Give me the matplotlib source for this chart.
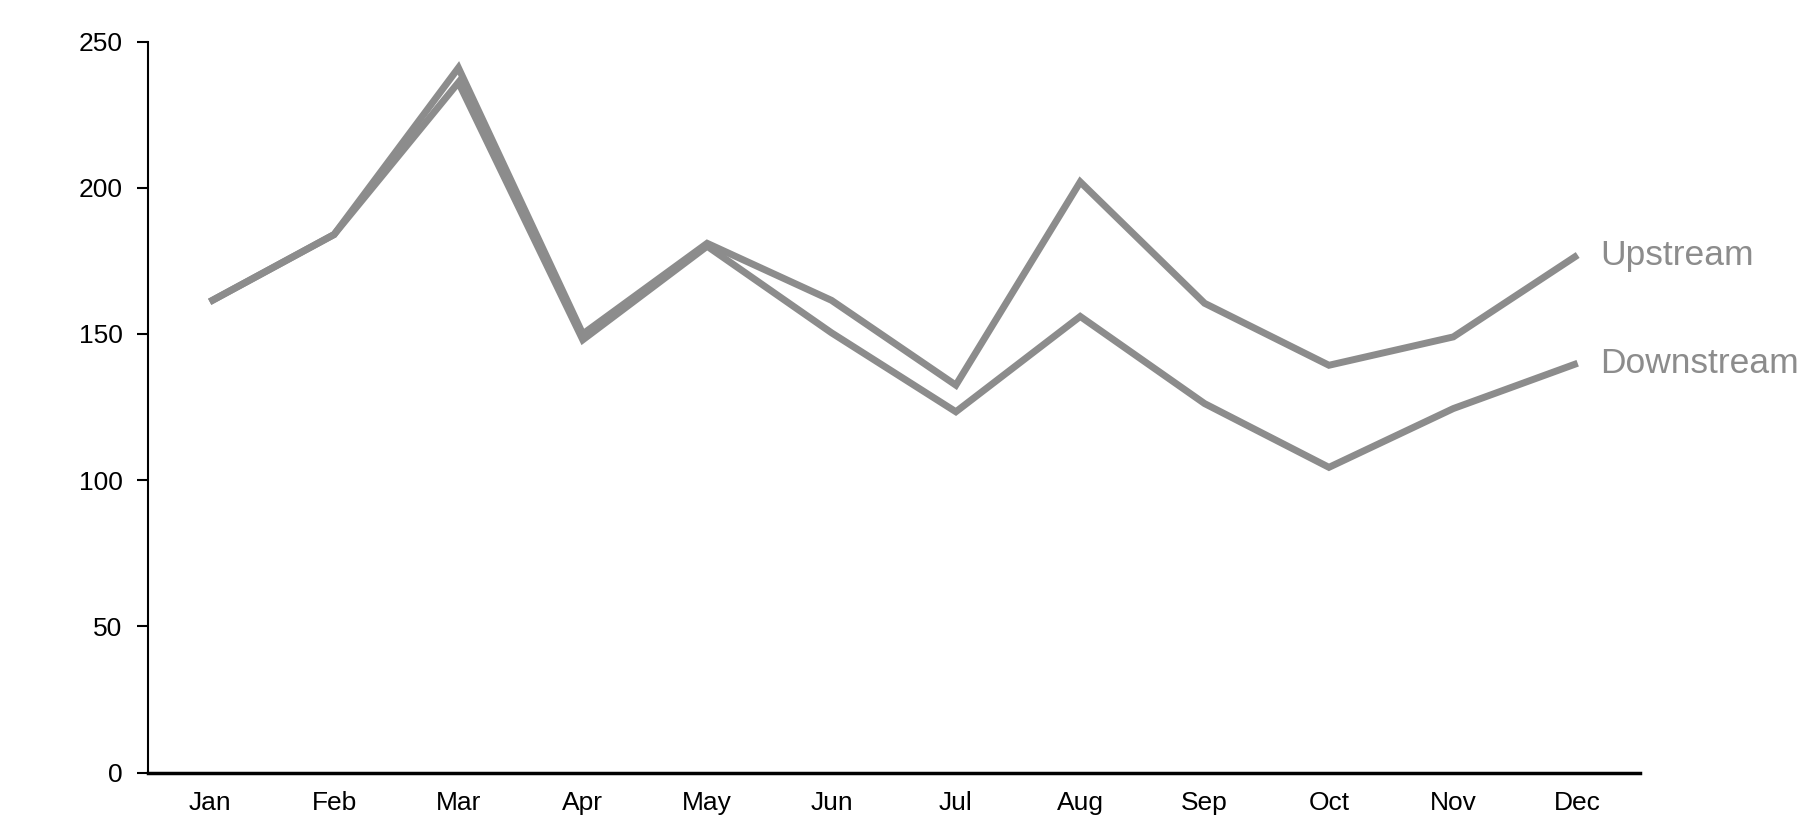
import matplotlib
matplotlib.use("Agg")
import matplotlib.pyplot as plt

months = ["Jan", "Feb", "Mar", "Apr", "May", "Jun", "Jul", "Aug", "Sep", "Oct", "Nov", "Dec"]
upstream = [161, 184, 241, 150, 181, 161.5, 132.5, 202, 160.5, 139.3, 149, 177]
downstream = [161, 184, 236, 148, 180, 150.4, 123.4, 156, 126.2, 104.4, 124.5, 140]
yticks = [0, 50, 100, 150, 200, 250]

plt.rcParams['font.family'] = ['Liberation Sans', 'DejaVu Sans']
color = "#8c8c8c"

fig = plt.figure(figsize=(18.08, 8.27), dpi=100)
ax = fig.add_axes([0.0816, 0.0657, 0.907 - 0.0816, 0.9498 - 0.0657])

x = list(range(len(months)))
ax.plot(x, upstream, color=color, lw=5, solid_joinstyle='miter', solid_capstyle='butt')
ax.plot(x, downstream, color=color, lw=5, solid_joinstyle='miter', solid_capstyle='butt')

ax.text(x[-1] + 0.18, upstream[-1], "Upstream", color=color, fontsize=25.5, va='center', ha='left')
ax.text(x[-1] + 0.18, downstream[-1], "Downstream", color=color, fontsize=25.5, va='center', ha='left')

ax.set_xlim(-0.5, 11.5)
ax.set_ylim(0, 250)
ax.set_xticks(x)
ax.set_xticklabels(months)
ax.set_yticks(yticks)
for s in ["top", "right"]:
    ax.spines[s].set_visible(False)
ax.spines["left"].set_linewidth(1.5)
ax.spines["bottom"].set_linewidth(2.5)
ax.tick_params(axis='x', length=0, pad=13, labelsize=19)
ax.tick_params(axis='y', length=8, width=1.5, pad=10, labelsize=19)

fig.savefig("out.png", dpi=100)
